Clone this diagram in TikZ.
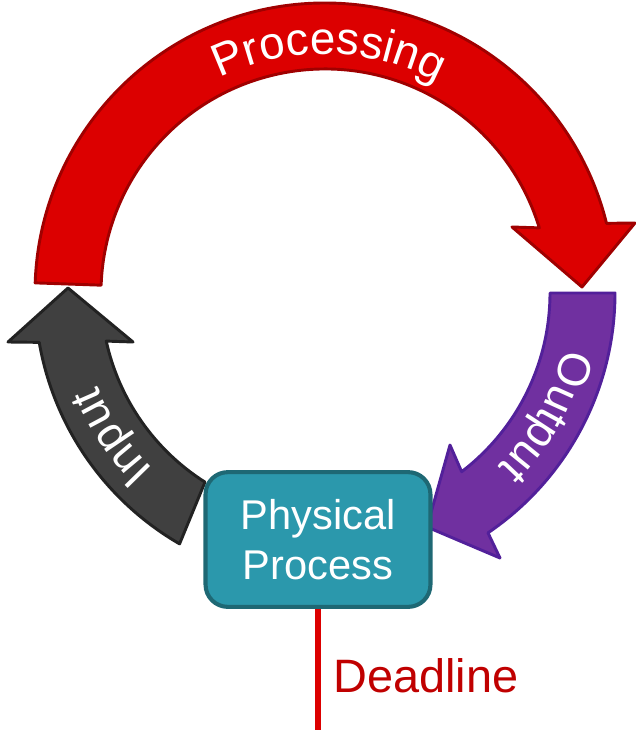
\documentclass[tikz,border=0pt]{standalone}
\usepackage{fontspec}
\setmainfont{Liberation Sans}
\usetikzlibrary{decorations.text}
\definecolor{redfill}{HTML}{DC0000}
\definecolor{redline}{HTML}{A00000}
\definecolor{purfill}{HTML}{7030A0}
\definecolor{purline}{HTML}{52209A}
\definecolor{grayfill}{HTML}{404040}
\definecolor{grayline}{HTML}{222222}
\definecolor{boxfill}{HTML}{2B98AC}
\definecolor{boxline}{HTML}{1E6874}
\definecolor{dlred}{HTML}{C00000}
\newcommand\arcfont{\color{white}\fontsize{39}{39}\selectfont}
\begin{document}
\begin{tikzpicture}[x=0.03cm,y=0.03cm,
  arrowshape/.style={line width=2.5pt, line join=round},
  arctext/.style={decorate, decoration={text along path, text align=center, text={|\arcfont|#1}}},
  procbox/.style={draw=boxline, fill=boxfill, line width=3.5pt, rounded corners=19pt,
    minimum width=192pt, minimum height=115pt, align=center, text=white,
    font=\fontsize{35.5}{42.7}\selectfont},
  deadlbl/.style={inner sep=0pt, text=dlred, font=\fontsize{40}{48}\selectfont},
  deadline/.style={draw=redfill, line width=4.3pt}]
\useasboundingbox (-325,-437) rectangle (310,293);
% Processing (red)
\draw[arrowshape, draw=redline, fill=redfill]
  (178:290) arc[start angle=178, end angle=13.9, radius=290]
  -- (310,70) -- (257,6) -- (187,66) -- (16.9:224)
  arc[start angle=16.9, end angle=178, radius=224] -- cycle;
% Output (purple)
\draw[arrowshape, draw=purline, fill=purfill]
  (0:290) arc[start angle=0, end angle=-55.8, radius=290]
  -- (175,-265) -- (102,-234) -- (125,-152) -- (-52.6:225)
  arc[start angle=-52.6, end angle=0, radius=225] -- cycle;
% Input (gray)
\draw[arrowshape, draw=grayline, fill=grayfill]
  (-120.1:290) arc[start angle=-120.1, end angle=-170.2, radius=290]
  -- (-317,-49) -- (-257,5) -- (-192,-49) -- (-167.6:224)
  arc[start angle=-167.6, end angle=-122.4, radius=224] -- cycle;
% curved labels
\path[arctext=Processing] (124:239) arc[start angle=124, end angle=54, radius=239];
\path[arctext=Output] (0:245) arc[start angle=0, end angle=-58, radius=245];
\path[arctext=Input] (244:246) arc[start angle=244, end angle=184, radius=246];
% physical process and deadline
\coordinate (dlend) at (-7,-437);
\node[procbox] (box) at (-7,-246.5) {Physical\\Process};
\draw[deadline] (box.south) -- (dlend);
\node[deadlbl, anchor=base west] (dlabel) at (8,-399) {Deadline};
\end{tikzpicture}
\end{document}
